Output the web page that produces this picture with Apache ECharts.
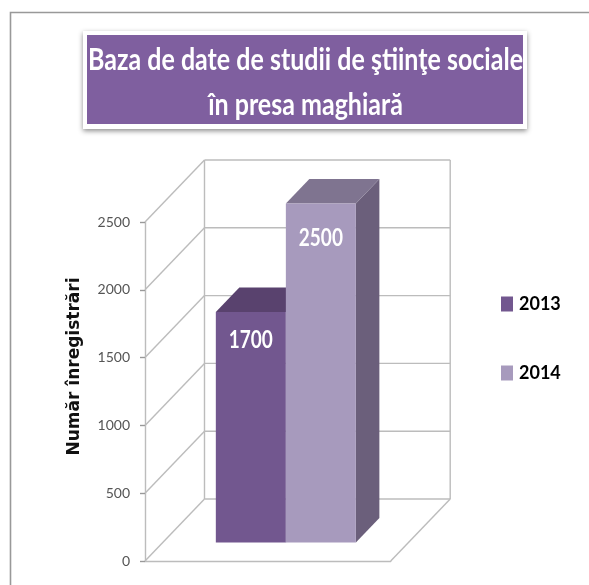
<!DOCTYPE html>
<html>
<head>
<meta charset="utf-8">
<style>html,body{margin:0;padding:0;background:#fff}#c{width:589px;height:585px}</style>
<script src="https://cdn.jsdelivr.net/npm/echarts@6/dist/echarts.min.js"></script>
</head>
<body>
<div id="c"></div>
<script>
const titleLines = ['Baza de date de studii de ştiinţe sociale', 'în presa maghiară'];
const axisTitle = 'Număr înregistrări';
const categories = [''];
const seriesNames = ['2013', '2014'];
const values2013 = [1700];
const values2014 = [2500];
const valueTicks = [0, 500, 1000, 1500, 2000, 2500];

const FONT = 'Lato,"Liberation Sans",sans-serif';
const WALL = { dx: 59.5, dy: 62 };
const BAR_PLANE = { dx: 18, dy: 18.5 };
const BAR_DEPTH = { dx: 23.5, dy: 24.5 };
const BAR_SHARE = 0.285;
const LABEL_DROP = [28, 34];
const GRID_STROKE = { stroke: '#bcbcbc', lineWidth: 1.4, fill: null };
const FACES = [
  { front: '#72578F', top: '#59426E', side: '#5A4370' },
  { front: '#A79ABD', top: '#7F7490', side: '#6B5F7B' }
];

const chart = echarts.init(document.getElementById('c'), null, { renderer: 'canvas', width: 589, height: 585 });

function line(x1, y1, x2, y2, style) {
  return { type: 'line', shape: { x1, y1, x2, y2 }, style: style || GRID_STROKE, silent: true };
}

function renderWall(params, api) {
  const cs = params.coordSys;
  const p = api.coord([0, api.value(1)]);
  const y = p[1];
  const left = cs.x, right = cs.x + cs.width;
  const children = [
    line(left, y, left + WALL.dx, y - WALL.dy),
    line(left + WALL.dx, y - WALL.dy, right + WALL.dx, y - WALL.dy)
  ];
  if (params.dataIndex === 0) {
    const top = api.coord([0, valueTicks[valueTicks.length - 1]])[1];
    children.push(line(left + WALL.dx, top - WALL.dy, left + WALL.dx, y - WALL.dy));
    children.push(line(right + WALL.dx, top - WALL.dy, right + WALL.dx, y - WALL.dy));
    children.push(line(right, y, right + WALL.dx, y - WALL.dy));
  }
  return { type: 'group', children };
}

function renderBar(params, api) {
  const idx = params.seriesIndex - 1;
  const colors = FACES[idx];
  const v = api.value(1);
  const centre = api.coord([api.value(0), 0])[0] + BAR_PLANE.dx;
  const w = api.size([1, 0])[0] * BAR_SHARE;
  const x0 = centre + (idx === 0 ? -w : 0);
  const x1 = x0 + w;
  const yBase = api.coord([0, 0])[1] - BAR_PLANE.dy;
  const yTop = api.coord([0, v])[1] - BAR_PLANE.dy;
  const d = BAR_DEPTH;
  return {
    type: 'group',
    children: [
      { type: 'polygon', shape: { points: [[x1, yBase], [x1 + d.dx, yBase - d.dy], [x1 + d.dx, yTop - d.dy], [x1, yTop]] }, style: { fill: colors.side } },
      { type: 'polygon', shape: { points: [[x0, yTop], [x0 + d.dx, yTop - d.dy], [x1 + d.dx, yTop - d.dy], [x1, yTop]] }, style: { fill: colors.top } },
      { type: 'rect', shape: { x: x0, y: yTop, width: w, height: yBase - yTop }, style: { fill: colors.front } },
      {
        type: 'text',
        x: (x0 + x1) / 2, y: yTop + LABEL_DROP[idx], scaleY: 1.35,
        style: { x: 0, y: 0, text: String(v), fill: '#fff', align: 'center', verticalAlign: 'middle', font: 'bold 19px ' + FONT }
      }
    ]
  };
}

chart.setOption({
  animation: false,
  backgroundColor: '#fff',
  legend: {
    data: seriesNames, orient: 'vertical', left: 501, top: 295,
    icon: 'rect', itemWidth: 12, itemHeight: 15, itemGap: 51, padding: 0,
    textStyle: { color: '#000', fontFamily: FONT, fontWeight: 'bold', fontSize: 18, padding: [0, 0, 0, 1] }
  },
  grid: { left: 145, top: 222, width: 245.7, height: 339 },
  xAxis: {
    type: 'category', data: categories,
    axisLine: { lineStyle: { color: '#bcbcbc', width: 1.4 } },
    axisTick: { show: false }, axisLabel: { show: false }
  },
  yAxis: {
    type: 'value', min: 0, max: 2500, interval: 500,
    name: axisTitle, nameLocation: 'middle', nameGap: 62, nameRotate: 90,
    nameTextStyle: { color: '#111', fontFamily: '"DejaVu Sans"', fontWeight: 'bold', fontSize: 17, padding: [0, 0, 0, 50] },
    axisLine: { show: true, lineStyle: { color: '#bcbcbc', width: 1.4 } },
    axisTick: { show: true, length: 5, lineStyle: { color: '#999', width: 1.4 } },
    axisLabel: { color: '#555', fontFamily: FONT, fontSize: 14, margin: 15, formatter: v => String(v) },
    splitLine: { show: false }
  },
  graphic: [
    { type: 'polyline', z: -2, shape: { points: [[10.5, 585], [10.5, 12.5], [589, 12.5]] }, style: { stroke: '#999', lineWidth: 1.6, fill: null } },
    { type: 'rect', z: -1, shape: { x: 83, y: 31, width: 444, height: 98 }, style: { fill: '#fff', shadowBlur: 5, shadowColor: 'rgba(0,0,0,0.45)', shadowOffsetY: 2 } },
    { type: 'rect', z: -1, shape: { x: 87, y: 35, width: 436, height: 89 }, style: { fill: '#7F5F9F' } },
    {
      type: 'text', z: 10, x: 305.5, y: 82, scaleX: 0.807,
      style: { x: 0, y: 0, text: titleLines.join('\n'), fill: '#fff', align: 'center', verticalAlign: 'middle', font: 'bold 31px ' + FONT, lineHeight: 45 }
    }
  ],
  series: [
    {
      type: 'custom', name: 'wall', coordinateSystem: 'cartesian2d', renderItem: renderWall, silent: true,
      encode: { x: 0, y: 1 },
      data: valueTicks.map(t => [0, t])
    },
    {
      type: 'custom', name: seriesNames[0], coordinateSystem: 'cartesian2d', renderItem: renderBar,
      itemStyle: { color: FACES[0].front }, encode: { x: 0, y: 1 },
      data: values2013.map((v, i) => [i, v])
    },
    {
      type: 'custom', name: seriesNames[1], coordinateSystem: 'cartesian2d', renderItem: renderBar,
      itemStyle: { color: FACES[1].front }, encode: { x: 0, y: 1 },
      data: values2014.map((v, i) => [i, v])
    }
  ]
});
</script>
</body>
</html>
